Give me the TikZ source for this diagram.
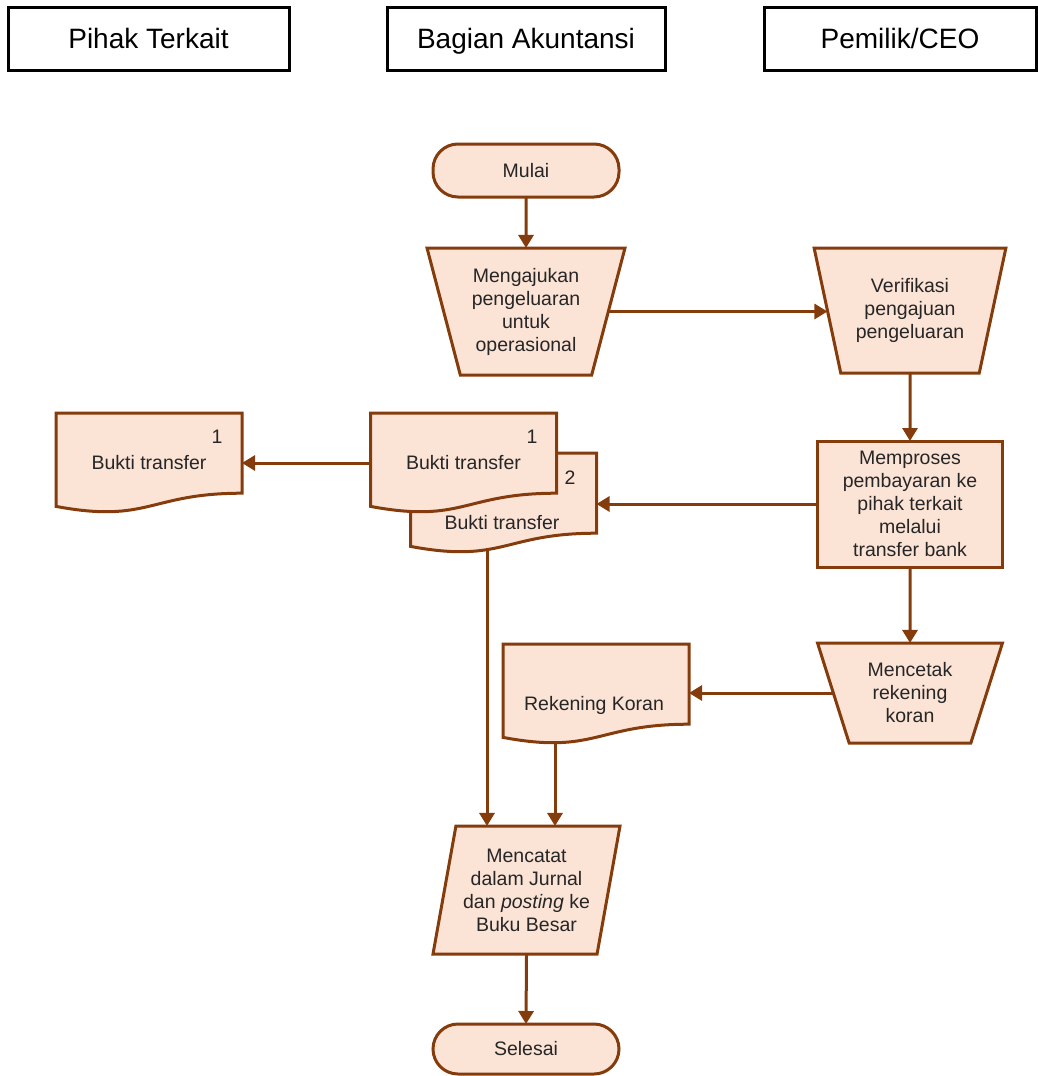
\documentclass[tikz,border=0pt]{standalone}
\usepackage{fontspec}
\setmainfont{Liberation Sans}
\usetikzlibrary{shapes.geometric,arrows.meta,calc}
\definecolor{brd}{HTML}{843C0C}
\definecolor{pch}{HTML}{FBE3D6}
\definecolor{ink}{HTML}{262626}
\pgfdeclarelayer{lines}\pgfdeclarelayer{bg}
\pgfsetlayers{lines,bg,main}

\tikzset{
  lane/.style={draw=black, line width=3pt, minimum height=63pt, inner sep=0pt, outer sep=0pt,
    text height=20pt, text depth=0pt, font=\fontsize{28}{32}\selectfont, text=black},
  box/.style={draw=brd, fill=pch, line width=3pt, text=ink, align=center,
    font=\fontsize{19.5}{23}\selectfont, inner sep=0pt, outer sep=0pt},
  term/.style={box, rectangle, rounded corners=25pt, minimum width=186pt},
  manual/.style={box, trapezium, shape border rotate=180, trapezium stretches=true},
  iobox/.style={box, trapezium, trapezium stretches=true,
    trapezium left angle=76, trapezium right angle=104},
  docarea/.style={rectangle, minimum width=186pt, minimum height=100pt, inner sep=0pt,
    outer sep=0pt, text=ink, font=\fontsize{19.5}{23}\selectfont},
  txt/.style={text=ink, font=\fontsize{19.5}{23}\selectfont, inner sep=0pt},
  flow/.style={draw=brd, line width=3pt, -{Triangle[length=13pt,width=15pt]}},
}

% document symbol: flat top, wavy bottom edge
\newcommand\docshape[1]{%
  \begin{pgfonlayer}{bg}
  \filldraw[draw=brd, fill=pch, line width=3pt]
    (#1.north west) -- (#1.north east)
    -- ($(#1.north east)!0.802!(#1.south east)$)
    .. controls ($(#1.north)!0.802!(#1.south)$) and ($(#1.north)!1.1075!(#1.south)$)
    .. ($(#1.north west)!0.934!(#1.south west)$) -- cycle;
  \end{pgfonlayer}}

\begin{document}
\begin{tikzpicture}[x=1pt,y=-1pt]
\useasboundingbox (0,0) rectangle (1038,1076);

% swimlane headers
\node[lane, minimum width=281pt] (lpihak) at (148.5,38.5) {Pihak Terkait};
\node[lane, minimum width=278pt] (lakun)  at (526,38.5)   {Bagian Akuntansi};
\node[lane, minimum width=272pt] (lceo)   at (900,38.5)   {Pemilik/CEO};

% flow steps
\node[term, minimum height=53pt] (mulai) at (526,170.5) {Mulai};
\node[manual, minimum width=198pt, minimum height=127pt, trapezium angle=72.5]
  (ajukan) at (526,311.5) {Mengajukan\\pengeluaran\\untuk\\operasional};
\node[manual, minimum width=192pt, minimum height=125pt, trapezium angle=72]
  (verif) at (910,310.5) {Verifikasi\\pengajuan\\pengeluaran};
\node[box, rectangle, minimum width=185pt, minimum height=126pt]
  (proses) at (910,504) {Memproses\\pembayaran ke\\pihak terkait\\melalui\\transfer bank};
\node[manual, minimum width=185pt, minimum height=100pt, trapezium angle=70]
  (cetak) at (910,693) {Mencetak\\rekening\\koran};
\node[iobox, minimum width=187pt, minimum height=128pt]
  (catat) at (526.5,890) {Mencatat\\dalam Jurnal\\dan \textit{posting} ke\\Buku Besar};
\node[term, minimum height=50pt] (selesai) at (526,1049) {Selesai};

% documents
\node[docarea] (bt2) at (503.5,503) {};
\docshape{bt2}
\node[docarea] (bt1) at (463.5,463) {Bukti transfer};
\docshape{bt1}
\node[docarea] (btp) at (149,463) {Bukti transfer};
\docshape{btp}
\node[docarea] (rek) at (596,694) {};
\docshape{rek}

\node[txt] (bt2txt) at (502,523) {Bukti transfer};
\node[txt] (rektxt) at (594,705) {Rekening Koran};
\node[txt] (bt1no) at (532,437) {1};
\node[txt] (bt2no) at (570,478) {2};
\node[txt] (btpno) at (217,437) {1};

% connectors
\begin{pgfonlayer}{lines}
\draw[flow] (mulai.south) -- (ajukan.north);
\draw[flow] (ajukan.east) -- (ajukan.east -| verif.west);
\draw[flow] (verif.south) -- (proses.north);
\draw[flow] (proses.west) -- (proses.west -| bt2.east);
\draw[flow] (proses.south) -- (cetak.north);
\draw[flow] (cetak.west) -- (cetak.west -| rek.east);
\draw[flow] (bt1.west) -- (btp.east);
\draw[flow] ([xshift=-16.5pt]bt2.center) -- ([xshift=-16.5pt]bt2.center |- catat.north);
\draw[flow] ([xshift=-41pt]rek.center) -- ([xshift=-41pt]rek.center |- catat.north);
\draw[flow] (catat.south) -- (selesai.north);
\end{pgfonlayer}
\end{tikzpicture}
\end{document}
